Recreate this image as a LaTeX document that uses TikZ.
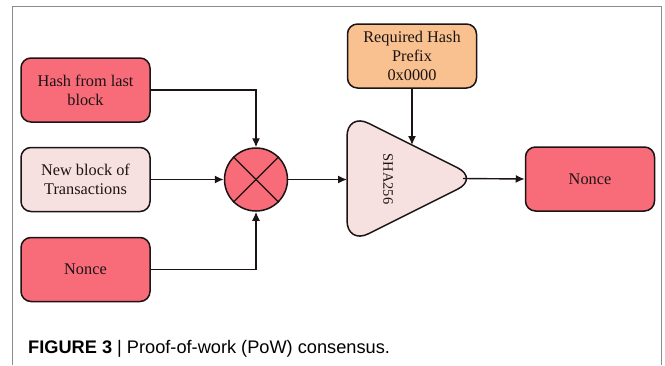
\documentclass[tikz,border=0pt]{standalone}
\usepackage{fontspec}
\setmainfont{Liberation Serif}
\newfontfamily\capfont{Liberation Sans}
\usetikzlibrary{arrows.meta}

\definecolor{pinkred}{HTML}{F86B79}
\definecolor{lightpink}{HTML}{F6E1E0}
\definecolor{peach}{HTML}{F9C18F}
\definecolor{edge}{HTML}{1C1414}
\definecolor{frameg}{HTML}{8C8C8C}

\begin{document}
\begin{tikzpicture}[x=1pt,y=-1pt,
  box/.style={draw=edge, line width=1.5pt, rounded corners=10pt,
    minimum width=129pt, minimum height=64pt, align=center,
    font=\fontsize{16.3}{19}\selectfont, text=edge},
  conn/.style={draw=edge, line width=1.4pt, -{Latex[length=9pt,width=8pt]}}]
\useasboundingbox (0,0) rectangle (665,365);

% outer frame
\draw[frameg, line width=1.2pt] (12.5,365) -- (12.5,6.5) -- (661.5,6.5) -- (661.5,365);

% inputs
\node[box, fill=pinkred]   (hash)   at (85.5,90)   {Hash from last\\block};
\node[box, fill=lightpink] (trans)  at (85.5,179.5) {New block of\\Transactions};
\node[box, fill=pinkred]   (nonceA) at (85.5,269.5) {Nonce};

% combiner
\node[circle, draw=edge, line width=1.5pt, fill=pinkred, minimum size=63pt] (mix) at (256,179.5) {};
\draw[edge, line width=1.4pt] (mix.north west) -- (mix.south east);
\draw[edge, line width=1.4pt] (mix.north east) -- (mix.south west);

% difficulty target
\node[box, fill=peach] (req) at (412,56) {Required Hash\\Prefix\\0x0000};

% hash function
\coordinate (tA) at (347,112.5);
\coordinate (tB) at (479,178.5);
\coordinate (tC) at (347,244.5);
\draw[edge, line width=1.5pt, fill=lightpink, rounded corners=24pt]
  (tA) -- (tB) -- (tC) -- cycle;
\node[rotate=-90, font=\fontsize{14.5}{17}\selectfont, text=edge] (sha) at (388,179) {SHA256};
\coordinate (shaL) at (347,179.5);
\coordinate (shaT) at (412,145);
\coordinate (shaR) at (463,178.5);

% output
\node[box, fill=pinkred] (nonceB) at (590,179) {Nonce};

% connectors
\draw[conn] (hash.east) -| (mix.north);
\draw[conn] (trans.east) -- (mix.west);
\draw[conn] (nonceA.east) -| (mix.south);
\draw[conn] (mix.east) -- (shaL);
\draw[conn] (req.south) -- (shaT);
\draw[conn] (shaR) -- (nonceB.west);

% caption
\node[anchor=base west, inner sep=0pt, text=black,
  font=\capfont\fontsize{18.2}{21}\selectfont] (cap) at (28,353)
  {\textbf{FIGURE 3} | Proof-of-work (PoW) consensus.};
\end{tikzpicture}
\end{document}
